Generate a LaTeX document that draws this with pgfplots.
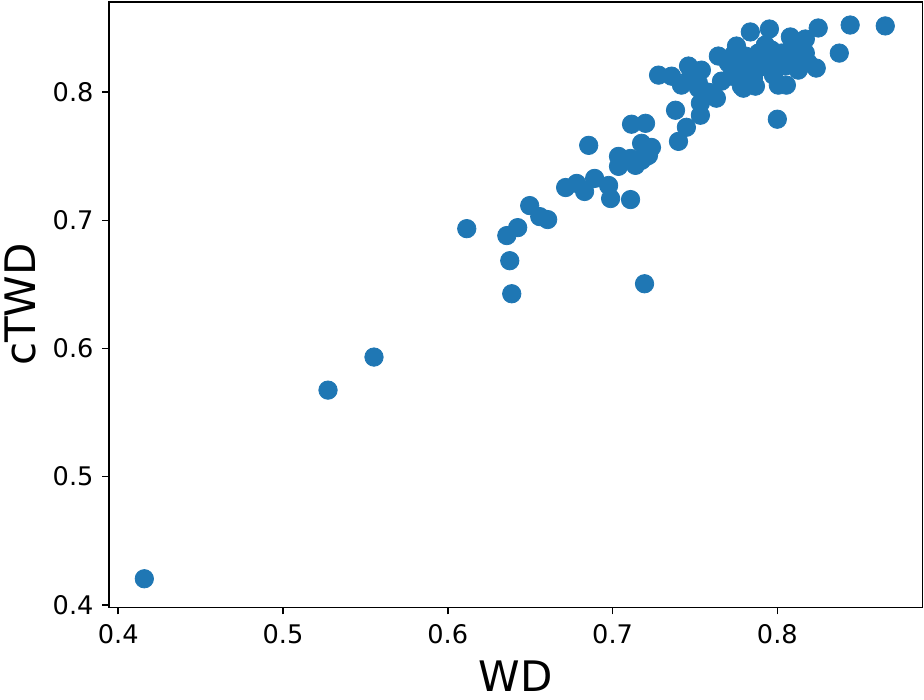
\documentclass[border=0pt]{standalone}
\usepackage{pgfplots}
\pgfplotsset{compat=1.18}
\usepackage{fontspec}
\setmainfont{DejaVu Sans}
\definecolor{tabblue}{HTML}{1F77B4}
\begin{document}
\begin{tikzpicture}
\begin{axis}[
  scale only axis,
  width=406.5pt, height=302.65pt,
  xmin=0.3944, xmax=0.8881,
  ymin=0.398, ymax=0.8706,
  xtick={0.4,0.5,0.6,0.7,0.8},
  ytick={0.4,0.5,0.6,0.7,0.8},
  xtick pos=bottom, ytick pos=left,
  tick align=outside,
  major tick length=3.5pt,
  tick style={black, line width=0.8pt},
  axis line style={line width=0.8pt},
  xticklabel style={font=\fontsize{12.8}{15}\selectfont, yshift=-1.5pt},
  yticklabel style={font=\fontsize{12.8}{15}\selectfont, xshift=-0.75pt},
  /pgf/number format/.cd, fixed, fixed zerofill, precision=1, assume math mode=true,
  /pgfplots/.cd,
  xlabel={WD}, ylabel={cTWD},
  xlabel style={font=\fontsize{21}{25}\selectfont, at={(axis description cs:0.5,-0.1132)}, anchor=center},
  ylabel style={font=\fontsize{21}{25}\selectfont, at={(axis description cs:-0.1095,0.5)}, anchor=center},
]
\addplot[only marks, mark=*, mark size=4.6pt, color=tabblue, mark options={draw=tabblue, fill=tabblue}] coordinates {
(0.4158,0.4203) (0.5273,0.5675) (0.5552,0.5933) (0.6115,0.6935) (0.6358,0.6881)
(0.6424,0.6943) (0.6376,0.6685) (0.6388,0.6427) (0.6497,0.7115) (0.6558,0.7029)
(0.6606,0.7006) (0.6715,0.7256) (0.6782,0.7288) (0.6830,0.7225) (0.6855,0.7585)
(0.6891,0.7327) (0.6976,0.7272) (0.6988,0.7170) (0.7109,0.7162) (0.7115,0.7750)
(0.7200,0.7757) (0.7194,0.6505) (0.7036,0.7499) (0.7036,0.7421) (0.7109,0.7483)
(0.7139,0.7429) (0.7176,0.7468) (0.7218,0.7507) (0.7176,0.7601) (0.7236,0.7569)
(0.7206,0.7499) (0.7400,0.7616) (0.7448,0.7726) (0.7382,0.7859) (0.7533,0.7820)
(0.7533,0.7914) (0.7630,0.7953) (0.7521,0.8031) (0.7521,0.8070) (0.7418,0.8055)
(0.7661,0.8086) (0.7782,0.8047) (0.7794,0.8031) (0.7358,0.8125) (0.7279,0.8133)
(0.7461,0.8204) (0.7539,0.8172) (0.7642,0.8282) (0.7782,0.8243) (0.7806,0.8282)
(0.7836,0.8470) (0.7952,0.8493) (0.8079,0.8431) (0.8170,0.8415) (0.8248,0.8501)
(0.8442,0.8524) (0.8655,0.8517) (0.8376,0.8305) (0.8236,0.8188) (0.8127,0.8172)
(0.8006,0.8055) (0.8055,0.8055) (0.8000,0.7789) (0.7885,0.8305) (0.7964,0.8329)
(0.8024,0.8305) (0.8127,0.8344) (0.8170,0.8305) (0.7885,0.8188) (0.7945,0.8227)
(0.8048,0.8204) (0.7782,0.8164) (0.7927,0.8368) (0.7733,0.8290) (0.7703,0.8227)
(0.7721,0.8125) (0.7855,0.8110) (0.7915,0.8266) (0.8097,0.8266) (0.7976,0.8133)
(0.7752,0.8360) (0.8091,0.8384) (0.8188,0.8227) (0.7824,0.8227) (0.7867,0.8047)
(0.7470,0.8110) (0.7580,0.8000)
};
\end{axis}
\pgfresetboundingbox
\path ([shift={(-54.5pt,-46pt)}]current axis.south west) rectangle ([shift={(0.75pt,0.85pt)}]current axis.north east);
\end{tikzpicture}
\end{document}
